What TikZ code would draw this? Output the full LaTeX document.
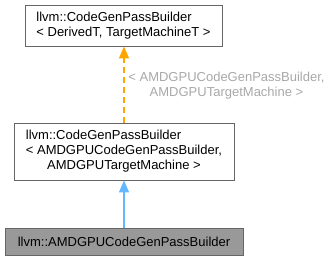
\documentclass[tikz,border=0pt]{standalone}
\usepackage{fontspec}
\setmainfont{Liberation Sans}
\usetikzlibrary{arrows.meta}
\definecolor{boxline}{HTML}{666666}
\definecolor{leaffill}{HTML}{999999}
\definecolor{tmplarrow}{HTML}{FFA500}
\definecolor{inhearrow}{HTML}{63B8FF}
\definecolor{tmpllabel}{HTML}{A8A8A8}
\tikzset{
  classbox/.style={draw=boxline, line width=0.9pt, fill=white, inner sep=0pt,
    font=\fontsize{13}{15}\selectfont, text=black},
  leafbox/.style={classbox, fill=leaffill},
  tip/.style={-{Triangle[width=10pt,length=12pt]}},
  templ/.style={tip, tmplarrow, line width=1.5pt, dash pattern=on 6pt off 4pt},
  inherit/.style={tip, inhearrow, line width=1.5pt},
  tlabel/.style={text=tmpllabel, font=\fontsize{13}{15}\selectfont, inner sep=0pt, align=center}
}
\begin{document}
\begin{tikzpicture}[x=1pt,y=-1pt]
  \useasboundingbox (0,0) rectangle (331,260);
  % template base class
  \node[classbox, minimum width=197pt, minimum height=41pt] (base) at (123.5,25.5)
    {\begin{tabular}{@{}l@{}}llvm::CodeGenPassBuilder\\ < DerivedT, TargetMachineT >\end{tabular}};
  % instantiated template
  \node[classbox, minimum width=220pt, minimum height=57pt] (inst) at (124,151.5)
    {\begin{tabular}{@{}l@{}}llvm::CodeGenPassBuilder\\ < AMDGPUCodeGenPassBuilder,\\
      \multicolumn{1}{@{}c@{}}{AMDGPUTargetMachine >}\end{tabular}};
  % derived class
  \node[leafbox, minimum width=238pt, minimum height=27pt] (leaf) at (124,241.5)
    {llvm::AMDGPUCodeGenPassBuilder};
  % relations
  \draw[templ] (inst.north) -- (inst.north |- base.south);
  \draw[inherit] (leaf.north) -- (inst.south);
  \node[tlabel] (targs) at (226.5,85.5)
    {< AMDGPUCodeGenPassBuilder,\\ AMDGPUTargetMachine >};
\end{tikzpicture}
\end{document}
